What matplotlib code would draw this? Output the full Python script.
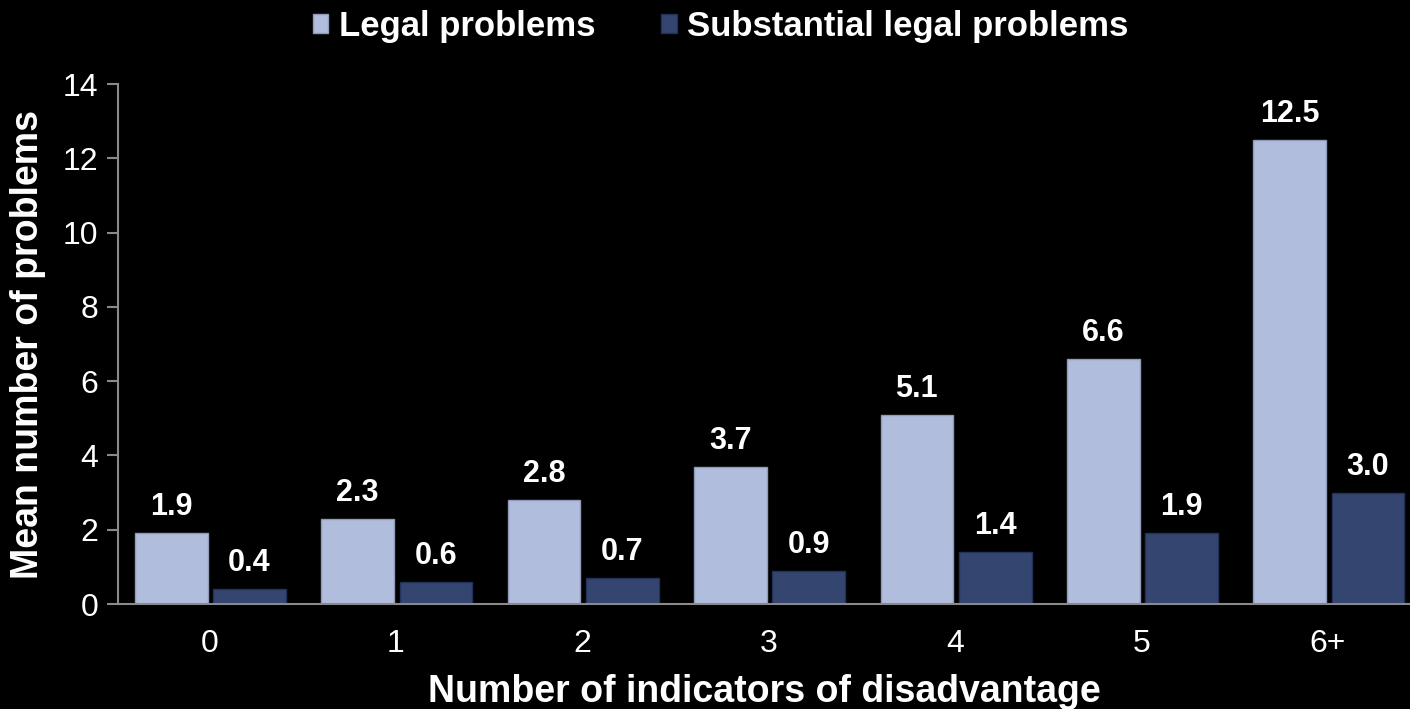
import numpy as np
import matplotlib
matplotlib.use('Agg')
import matplotlib.pyplot as plt

plt.rcParams['font.family'] = ['Liberation Sans', 'DejaVu Sans']

categories = ['0', '1', '2', '3', '4', '5', '6+']
legal = [1.9, 2.3, 2.8, 3.7, 5.1, 6.6, 12.5]
substantial = [0.4, 0.6, 0.7, 0.9, 1.4, 1.9, 3.0]

LIGHT = '#b0bddd'
DARK = '#344670'
GREY = '#8a8a8a'

fig = plt.figure(figsize=(14.1, 7.09), dpi=100, facecolor='black')
ax = fig.add_axes([0.0837, 0.148, 0.9163, 0.7335], facecolor='black')

x = np.arange(len(categories))
w = 0.39
b1 = ax.bar(x - 0.205, legal, w, color=LIGHT, edgecolor='#8e9ab6', linewidth=1,
            label='Legal problems')
b2 = ax.bar(x + 0.215, substantial, w, color=DARK, edgecolor='#22325a', linewidth=1,
            label='Substantial legal problems')

for bars in (b1, b2):
    for rect in bars:
        h = rect.get_height()
        ax.annotate(f'{h:.1f}', (rect.get_x() + rect.get_width() / 2, h),
                    xytext=(0, 8), textcoords='offset points',
                    ha='center', va='bottom', color='white',
                    fontsize=22, fontweight='bold')

ax.set_xlim(-0.49, 6.44)
ax.set_ylim(0, 14)
ax.set_yticks(range(0, 15, 2))
ax.set_xticks(x)
ax.set_xticklabels(categories)

for side in ('top', 'right'):
    ax.spines[side].set_visible(False)
for side in ('left', 'bottom'):
    ax.spines[side].set_color(GREY)
    ax.spines[side].set_linewidth(1.5)

ax.tick_params(axis='y', colors=GREY, labelcolor='white', labelsize=23,
               length=8, width=1.5, pad=6)
ax.tick_params(axis='x', length=0, labelcolor='white', labelsize=23, pad=18)

ax.set_ylabel('Mean number of problems', color='white', fontsize=27,
              fontweight='bold', labelpad=12)
ax.set_xlabel('Number of indicators of disadvantage', color='white',
              fontsize=27, fontweight='bold', labelpad=11)

leg = fig.legend(loc='upper center', bbox_to_anchor=(0.511, 1.03), ncol=2,
                 frameon=False, fontsize=25, handlelength=0.45, handleheight=0.45,
                 handletextpad=0.3, columnspacing=1.9)
for t in leg.get_texts():
    t.set_color('white')
    t.set_fontweight('bold')

fig.savefig('out.png', dpi=100, facecolor='black')
